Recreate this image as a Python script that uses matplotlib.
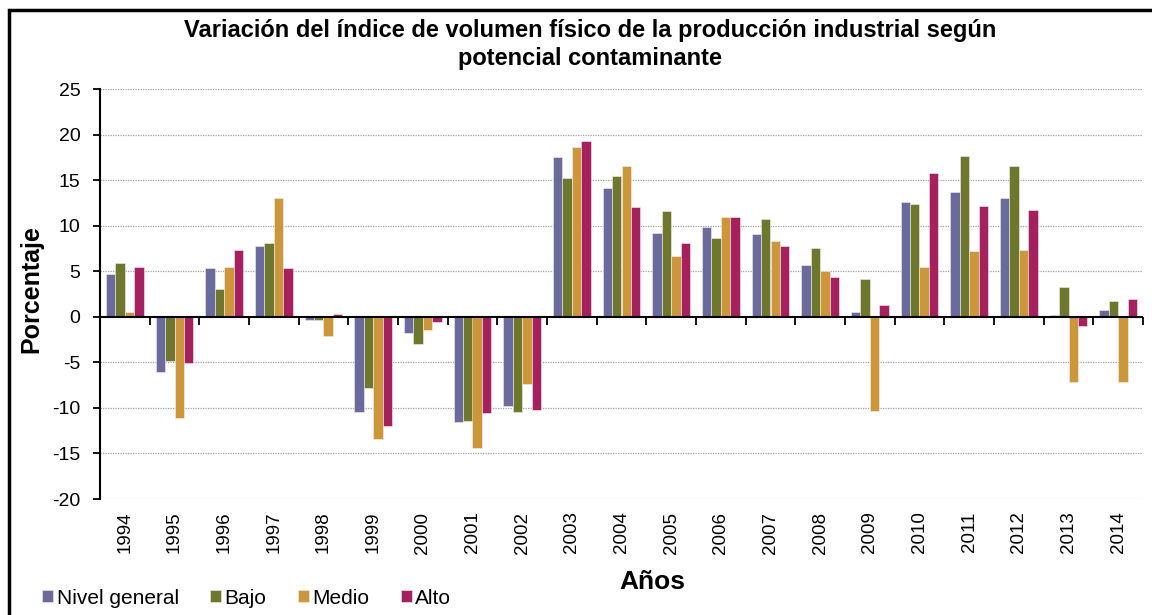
import matplotlib.pyplot as plt
from matplotlib.patches import Rectangle
import numpy as np

plt.rcParams['font.family'] = ['Liberation Sans', 'DejaVu Sans']
plt.rcParams['axes.unicode_minus'] = False

anios = [str(a) for a in range(1994, 2015)]
series = ["Nivel general", "Bajo", "Medio", "Alto"]
colores = ["#6B6A9C", "#6E772E", "#CC963A", "#A5215E"]

nivel_general = [4.7, -6.1, 5.3, 7.8, -0.4, -10.5, -1.8, -11.6, -9.8, 17.5, 14.1,
                 9.2, 9.9, 9.1, 5.7, 0.5, 12.6, 13.7, 13.0, 0.2, 0.7]
bajo = [5.95, -4.9, 3.0, 8.1, -0.3, -7.8, -3.0, -11.45, -10.45, 15.2, 15.5,
        11.6, 8.6, 10.7, 7.5, 4.2, 12.4, 17.6, 16.5, 3.25, 1.75]
medio = [0.5, -11.15, 5.5, 13.0, -2.15, -13.4, -1.4, -14.4, -7.4, 18.6, 16.6,
         6.7, 11.0, 8.3, 5.0, -10.3, 5.5, 7.2, 7.35, -7.2, -7.2]
alto = [5.5, -5.1, 7.35, 5.4, 0.33, -12.0, -0.6, -10.6, -10.2, 19.3, 12.0,
        8.1, 10.9, 7.8, 4.4, 1.3, 15.75, 12.2, 11.7, -1.0, 2.0]
valores = [nivel_general, bajo, medio, alto]

fig = plt.figure(figsize=(11.52, 6.15), dpi=100)
ax = fig.add_axes([100 / 1152, 1 - 499 / 615, 1043 / 1152, 410 / 615])

x = np.arange(len(anios))
ancho = 0.19
for i, (nombre, vals, col) in enumerate(zip(series, valores, colores)):
    ax.bar(x + (i - 1.5) * ancho, vals, ancho, color=col, label=nombre,
           edgecolor="#f3eef3", linewidth=0.4, zorder=3)

ax.set_xlim(-0.5, len(anios) - 0.5)
ax.set_ylim(-20, 25)
ax.set_yticks(range(-20, 26, 5))
for v in range(-20, 26, 5):
    if v != 0:
        ax.axhline(v, color="#a0a0a0", linestyle=(0, (1, 1)), linewidth=0.9, zorder=1)
ax.axhline(0, color="black", linewidth=1.5, zorder=4)

ax.spines['top'].set_visible(False)
ax.spines['right'].set_visible(False)
ax.spines['bottom'].set_visible(False)
ax.spines['left'].set_linewidth(1.5)
ax.tick_params(axis='y', direction='out', length=5, width=1.3, labelsize=14, pad=9)
ax.set_xticks(x)
ax.set_xticklabels(anios, rotation=90, fontsize=13.5)
ax.tick_params(axis='x', length=0, pad=9)

# marcas de categoria sobre el eje cero
pos_cero = 20 / 45
sec = ax.secondary_xaxis(pos_cero)
sec.set_xticks(np.arange(-0.5, len(anios), 1))
sec.set_xticklabels([])
sec.tick_params(axis='x', direction='out', length=6, width=1.3)
sec.spines['bottom'].set_visible(False)

fig.text(31 / 1152, 1 - 289 / 615, "Porcentaje", fontsize=18, fontweight='bold',
         rotation=90, ha='center', va='center')
fig.text(652 / 1152, 1 - 582 / 615, "Años", fontsize=19, fontweight='bold',
         ha='center', va='center')
fig.text(590 / 1152, 1 - 31 / 615,
         "Variación del índice de volumen físico de la producción industrial según",
         fontsize=17, fontweight='bold', ha='center', va='center')
fig.text(590 / 1152, 1 - 58 / 615, "potencial contaminante",
         fontsize=17, fontweight='bold', ha='center', va='center')

handles, labels = ax.get_legend_handles_labels()
fig.legend(handles, labels, loc='center left', bbox_to_anchor=(42 / 1152, 1 - 598 / 615),
           ncol=4, frameon=False, fontsize=15, handlelength=0.55, handleheight=0.55,
           handletextpad=0.15, columnspacing=1.5, borderpad=0, borderaxespad=0)

fig.patches.append(Rectangle((9 / 1152, -0.5), 2, 1.5 - 10 / 615, transform=fig.transFigure,
                             fill=False, edgecolor="black", linewidth=2.5))

fig.savefig("out.png", dpi=100)
